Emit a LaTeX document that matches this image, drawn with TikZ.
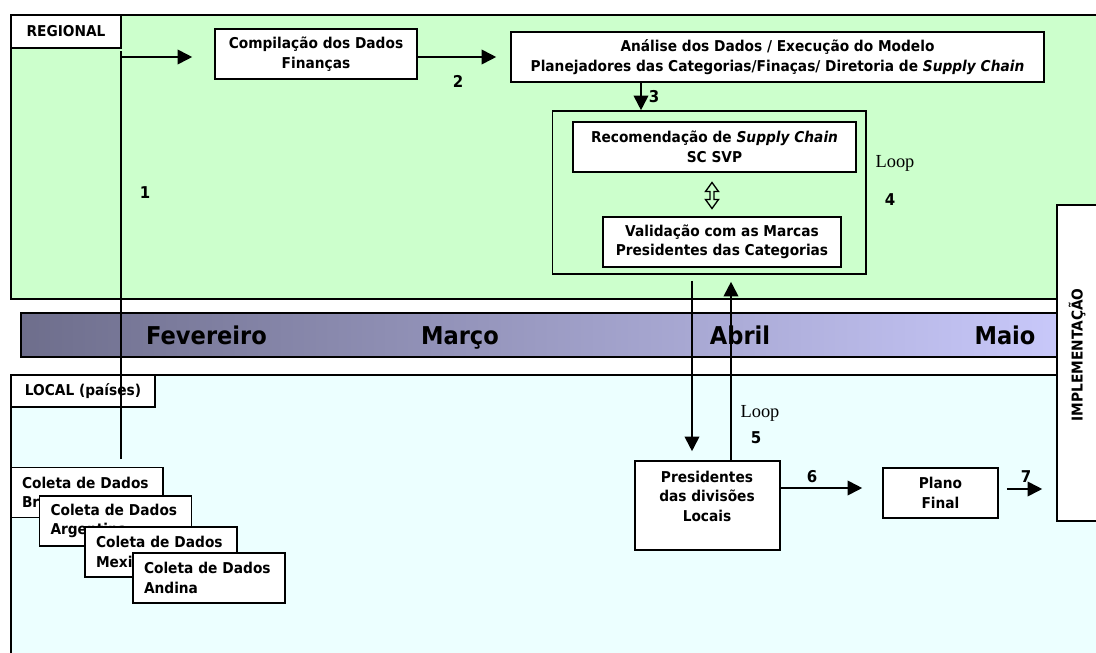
\documentclass[tikz,border=0pt]{standalone}
\usepackage{fontspec}
\setmainfont{DejaVu Sans}[FakeStretch=0.92]
\newfontfamily\loopserif{Liberation Serif}
\usetikzlibrary{arrows.meta}

\definecolor{regfill}{RGB}{204,255,204}
\definecolor{locfill}{RGB}{236,255,255}
\definecolor{bardark}{RGB}{110,110,140}
\definecolor{barlight}{RGB}{200,200,250}

\begin{document}
\begin{tikzpicture}[x=0.75pt,y=-0.75pt,
  every node/.style={font=\fontsize{11.2}{14.6}\selectfont\bfseries},
  box/.style={draw=black, line width=1.2pt, fill=white, inner sep=0pt, align=center},
  coleta/.style={box, align=left, text width=97.5pt, inner xsep=8.25pt,
                 minimum height=37.5pt},
  txt/.style={inner sep=0pt, align=center},
  arr/.style={line width=1.4pt, -{Triangle[length=11pt,width=11pt]}},
  plainline/.style={line width=1.4pt},
  num/.style={inner sep=0pt, font=\fontsize{12.2}{14}\selectfont\bfseries},
  looplbl/.style={inner sep=0pt, font=\fontsize{13.8}{16}\selectfont\loopserif},
  month/.style={inner sep=0pt, anchor=base, font=\fontsize{18.4}{20}\selectfont\bfseries},
]
\useasboundingbox (0,0) rectangle (1096,653);
\clip (0,0) rectangle (1096,653);

% regional and local bands
\draw[line width=1.2pt, fill=regfill] (11,15) rectangle (1130,299);
\draw[line width=1.2pt, fill=locfill] (11,375) rectangle (1130,690);

% timeline bar
\shade[left color=bardark, right color=barlight] (21,313) rectangle (1060,357);
\draw[line width=1.2pt] (1060,313) -- (21,313) -- (21,357) -- (1060,357);
\node[month] (fev) at (206.5,344) {Fevereiro};
\node[month] (mar) at (460,344) {Março};
\node[month] (abr) at (740,344) {Abril};
\node[month] (mai) at (1005,344) {Maio};

% band labels
\node[box, minimum width=82.5pt, minimum height=24.75pt] (reglbl) at (66,31.5) {REGIONAL};
\node[box, minimum width=108pt, minimum height=24pt] (loclbl) at (83,391) {LOCAL (países)};

% regional steps
\node[box, minimum width=151.5pt, minimum height=37.5pt] (comp) at (316,54)
  {Compilação dos Dados\\Finanças};
\node[box, minimum width=399.75pt, minimum height=37.5pt] (ana) at (777.5,57)
  {Análise dos Dados / Execução do Modelo\\
   Planejadores das Categorias/Finaças/ Diretoria de \textit{Supply Chain}};
\node[box, fill=none, minimum width=235.1pt, minimum height=122.25pt] (cont) at (709.25,192.5) {};
\node[box, minimum width=212.25pt, minimum height=37.5pt] (rec) at (714.5,147)
  {Recomendação de \textit{Supply Chain}\\SC SVP};
\node[box, minimum width=178.5pt, minimum height=37.5pt] (val) at (722,242)
  {Validação com as Marcas\\Presidentes das Categorias};

% implementation column
\node[box, minimum width=54pt, minimum height=237pt] (impl) at (1093,363) {};
\node[txt, rotate=90] (impltxt) at (1077,355) {IMPLEMENTAÇÃO};

% local data collection
\node[coleta] (bra) at (87,492.5) {Coleta de Dados\\Brasil};
\node[coleta] (arg) at (115.5,521) {Coleta de Dados\\Argentina};
\node[coleta] (mex) at (161,552) {Coleta de Dados\\Mexico};
\node[coleta] (and) at (209,578) {Coleta de Dados\\Andina};

% local decision steps
\node[box, minimum width=108.75pt, minimum height=66.75pt] (pres) at (707.5,505.5) {};
\node[txt] (prestxt) at (707,496) {Presidentes\\das divisões\\Locais};
\node[box, minimum width=86.25pt, minimum height=37.5pt] (plano) at (940.5,493) {Plano\\Final};

% step 1: from local collection up to the regional compilation
\coordinate (l1bot) at (121,459);
\coordinate (l1top) at (121,51);
\coordinate (a1s) at (121,57);
\draw[plainline] (l1bot) -- (l1top);
\draw[arr, shorten >=16.5pt] (a1s) -- (a1s -| comp.west);

% step 2
\draw[arr, shorten >=10.5pt] ([yshift=-2.25pt]comp.east) -- ([yshift=-2.25pt]comp.east -| ana.west);

% step 3
\coordinate (a3x) at (641,0);
\draw[arr] (a3x |- ana.south) -- (a3x |- cont.north);

% recommendation <-> validation
\coordinate (dbl) at (712,195.5);
\draw[line width=1pt, shift={(dbl)}] (0,-13) -- (6.5,-4) -- (2,-4) -- (2,4) -- (6.5,4)
  -- (0,13) -- (-6.5,4) -- (-2,4) -- (-2,-4) -- (-6.5,-4) -- cycle;

% loop between regional and local
\coordinate (dnx) at (692,0);
\coordinate (upx) at (731,0);
\draw[arr, shorten <=4.5pt, shorten >=6.75pt] (dnx |- cont.south) -- (dnx |- pres.north);
\draw[arr, shorten >=5.25pt] (upx |- pres.north) -- (upx |- cont.south);

% steps 6 and 7
\coordinate (a6y) at (0,488);
\coordinate (a7y) at (0,489);
\draw[arr, shorten >=15pt] (pres.east |- a6y) -- (plano.west |- a6y);
\draw[arr, shorten <=6pt, shorten >=10.5pt] (plano.east |- a7y) -- (impl.west |- a7y);

% step numbers and loop labels
\node[num] (n1) at (145,193) {1};
\node[num] (n2) at (458,81) {2};
\node[num] (n3) at (654,97) {3};
\node[looplbl] (loopa) at (895,163) {Loop};
\node[num] (n4) at (890,200) {4};
\node[looplbl] (loopb) at (760,413) {Loop};
\node[num] (n5) at (756,438) {5};
\node[num] (n6) at (812,477) {6};
\node[num] (n7) at (1026,477) {7};
\end{tikzpicture}
\end{document}
